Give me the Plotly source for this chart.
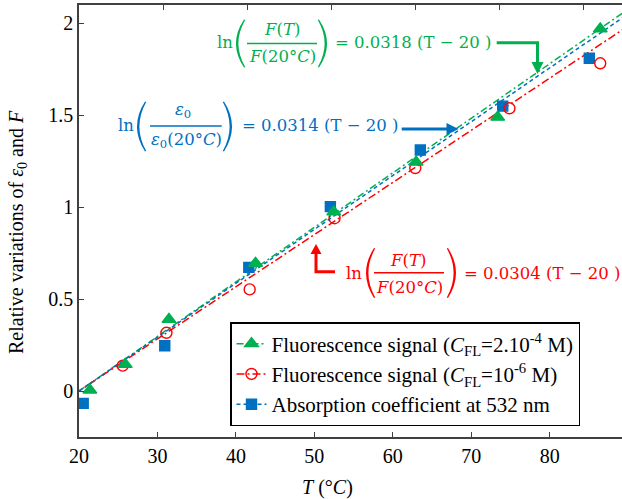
import plotly.graph_objects as go

# ---------------- data ----------------
green_T = [21.3, 25.5, 30.7, 41.0, 50.3, 60.1, 69.8, 82.0]
green_y = [0.005, 0.145, 0.39, 0.695, 0.975, 1.245, 1.49, 1.97]
red_T = [25.2, 30.4, 40.3, 50.4, 60.0, 71.2, 82.0]
red_y = [0.138, 0.317, 0.553, 0.94, 1.213, 1.538, 1.783]
blue_T = [20.5, 30.2, 40.2, 49.9, 60.6, 70.4, 80.7]
blue_y = [-0.067, 0.246, 0.673, 1.003, 1.311, 1.55, 1.81]

slope_green = 0.0318
slope_blue = 0.0314
slope_red = 0.0304
fit_T = [18, 92]

x_ticks = [20, 30, 40, 50, 60, 70, 80]
y_ticks = [0, 0.5, 1, 1.5, 2]
y_tick_text = ["0", "0.5", "1", "1.5", "2"]

GREEN = "#00B050"
BLUE = "#0070C0"
RED = "#FF0000"
AXC = "#404040"

names = [
    "Fluorescence signal (<i>C</i><sub>FL</sub>=2.10<sup>-4</sup> M)",
    "Fluorescence signal (<i>C</i><sub>FL</sub>=10<sup>-6</sup> M)",
    "Absorption coefficient at 532 nm",
]

# ---------------- layout helpers (pixel -> paper) ----------------
L, R, T, B = 79, 622, 5, 437
W, H = R - L, B - T


def fx(p):
    return (p - L) / W


def fy(p):
    return (B - p) / H


fig = go.Figure()

# invisible trace so that the bottom axis (x/y subplot) is drawn
fig.add_trace(go.Scatter(x=[None], y=[None], xaxis="x", yaxis="y", mode="markers",
                         showlegend=False, hoverinfo="skip"))

series = [
    (slope_green, GREEN, "7px,3px,2px,3px", "triangle-up", 12, names[0]),
    (slope_red, RED, "8px,3px,2px,3px", "circle-open", 11, names[1]),
    (slope_blue, BLUE, "4px,3px", "square", 10, names[2]),
]
for slope, col, dash, sym, ms, nm in series:
    fig.add_trace(go.Scatter(
        x=fit_T, y=[slope * (t - 20) for t in fit_T], xaxis="x2", yaxis="y",
        mode="lines+markers", name=nm, cliponaxis=True,
        line=dict(color=col, width=1.5, dash=dash),
        marker=dict(symbol=sym, size=ms, color=col, line=dict(color=col, width=1.4)),
    ))

for xs, ys, col, sym, ms in [
    (blue_T, blue_y, BLUE, "square", 10),
    (red_T, red_y, RED, "circle-open", 11),
    (green_T, green_y, GREEN, "triangle-up", 12),
]:
    fig.add_trace(go.Scatter(
        x=xs, y=ys, xaxis="x2", yaxis="y", mode="markers", showlegend=False,
        marker=dict(symbol=sym, size=ms, color=col, line=dict(color=col, width=1.4)),
    ))

annotations = []
shapes = []
EQF = "DejaVu Serif"
EQS = 16.5


def txt(s, x, y, color, xanchor="center", size=EQS, family=EQF, angle=0):
    annotations.append(dict(text=s, x=fx(x), y=fy(y), xref="paper", yref="paper",
                            showarrow=False, xanchor=xanchor, yanchor="middle",
                            textangle=angle,
                            font=dict(family=family, size=size, color=color)))


def paren(cx, cy, h, color, left=True):
    s = 1 if left else -1
    top, bot = cy - h / 2, cy + h / 2
    ox = cx + s * 4
    oc = cx - s * 12
    ix = cx + s * 5.2
    ic = cx - s * 8.4
    path = (f"M {fx(ox)},{fy(top)} Q {fx(oc)},{fy(cy)} {fx(ox)},{fy(bot)} "
            f"L {fx(ix)},{fy(bot - 0.5)} Q {fx(ic)},{fy(cy)} {fx(ix)},{fy(top + 0.5)} Z")
    shapes.append(dict(type="path", xref="paper", yref="paper", path=path,
                       fillcolor=color, line=dict(width=0), layer="above"))


def hline(x0, x1, y, color, w=1.5):
    shapes.append(dict(type="line", xref="paper", yref="paper", x0=fx(x0), x1=fx(x1),
                       y0=fy(y), y1=fy(y), line=dict(color=color, width=w), layer="above"))


def poly(pts, color, closed=False, w=3):
    path = "M " + " L ".join(f"{fx(a)},{fy(b)}" for a, b in pts)
    if closed:
        path += " Z"
        shapes.append(dict(type="path", xref="paper", yref="paper", path=path,
                           fillcolor=color, line=dict(width=0), layer="above"))
    else:
        shapes.append(dict(type="path", xref="paper", yref="paper", path=path,
                           line=dict(color=color, width=w), layer="above"))


# green equation
txt("ln", 225, 43, GREEN)
paren(240, 43.5, 48, GREEN, True)
txt("<i>F</i>(<i>T</i>)", 282, 30, GREEN)
hline(247, 317, 43.5, GREEN)
txt("<i>F</i>(20°<i>C</i>)", 282, 57, GREEN)
paren(323, 43.5, 48, GREEN, False)
txt("= 0.0318 (T − 20 )", 333, 43, GREEN, xanchor="left")
poly([(496.7, 42.7), (537.5, 42.7), (537.5, 63)], GREEN)
poly([(531.5, 62), (543.5, 62), (537.5, 74)], GREEN, closed=True)

# blue equation
txt("ln", 125.7, 125, BLUE)
paren(141, 126.5, 50, BLUE, True)
txt("<i>ε</i><sub>0</sub>", 182.5, 110, BLUE)
hline(150, 221.7, 126, BLUE)
txt("<i>ε</i><sub>0</sub>(20°<i>C</i>)", 186, 141, BLUE)
paren(228, 126.5, 50, BLUE, False)
txt("= 0.0314 (T − 20 )", 240, 125, BLUE, xanchor="left")
poly([(401.7, 129), (448, 129)], BLUE)
poly([(446.5, 123), (446.5, 135), (458.5, 129)], BLUE, closed=True)

# red equation
txt("ln", 354, 273, RED)
paren(370, 273, 50, RED, True)
txt("<i>F</i>(<i>T</i>)", 408, 260, RED)
hline(374, 444, 272.7, RED)
txt("<i>F</i>(20°<i>C</i>)", 409, 287, RED)
paren(452, 273, 50, RED, False)
txt("= 0.0304 (T − 20 )", 461.7, 273, RED, xanchor="left")
poly([(335, 271.7), (316, 271.7), (316, 253)], RED)
poly([(310.5, 254), (321.5, 254), (316, 244)], RED, closed=True)

# axis titles
TF = "Liberation Serif"
txt("<i>T</i> (°<i>C</i>)", 327.5, 487.5, "black", size=20, family=TF)
txt("Relative variations of <i>ε</i><sub>0</sub> and <i>F</i>", 17, 232, "black",
    size=20, family=TF, angle=-90)

fig.update_layout(
    width=622, height=499,
    margin=dict(l=L, r=0, t=T, b=499 - B, autoexpand=False),
    paper_bgcolor="white", plot_bgcolor="white",
    font=dict(family=TF, size=19, color="black"),
    showlegend=True,
    legend=dict(x=fx(230), y=fy(322), xanchor="left", yanchor="top",
                bgcolor="white", bordercolor="black", borderwidth=1.5,
                font=dict(family=TF, size=21, color="black"), tracegroupgap=0),
    xaxis=dict(range=[20, 20 + W / 7.845], tickvals=x_ticks, ticks="inside", ticklen=5,
               tickcolor=AXC, tickwidth=1.3, showline=True, linecolor=AXC, linewidth=1.5,
               showgrid=False, zeroline=False, tickfont=dict(family=TF, size=20, color="black")),
    xaxis2=dict(range=[20, 20 + W / 8.407], overlaying="x", side="top", dtick=10, tick0=20,
                ticks="inside", ticklen=5, tickcolor=AXC, tickwidth=1.3, showline=True,
                linecolor=AXC, linewidth=1.5, showgrid=False, zeroline=False,
                showticklabels=False),
    yaxis=dict(range=[-0.25, 2.1], tickvals=y_ticks, ticktext=y_tick_text, ticks="inside",
               ticklen=5, tickcolor=AXC, tickwidth=1.3, showline=True, linecolor=AXC,
               linewidth=1.5, showgrid=False, zeroline=False,
               tickfont=dict(family=TF, size=20, color="black")),
    annotations=annotations,
    shapes=shapes,
)

fig.write_html("out.html", config={"displayModeBar": False},
               post_script="document.body.style.margin='0';")
